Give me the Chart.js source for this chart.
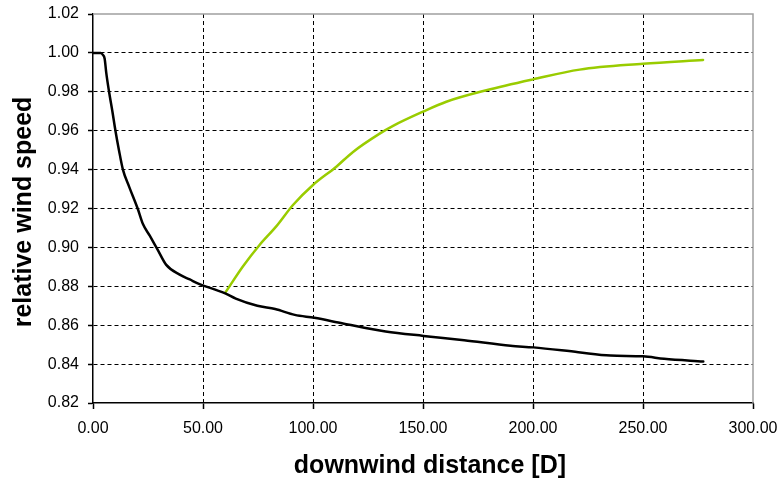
<!DOCTYPE html>
<html>
<head>
<meta charset="utf-8">
<script src="https://cdn.jsdelivr.net/npm/chart.js@4.4.1/dist/chart.umd.min.js"></script>
<style>
  html, body { margin: 0; padding: 0; background: #ffffff; }
  #wrap { width: 779px; height: 479px; }
</style>
</head>
<body>
<div id="wrap"><canvas id="c" width="779" height="479"></canvas></div>
<script>
// Wind speed behind a single turbine row (black) and recovery behind a gap (green)
const distanceBlack = [0, 2, 3.5, 4.5, 5.3, 6, 7.3, 8.8, 10.2, 11.8, 13.6, 16.5, 20.3, 22.7, 25.8,
  29.3, 33.3, 39.4, 44, 48.7, 55.2, 60.1, 64.9, 74.7, 82.8, 91.7, 100.6, 113.6, 133, 150.2,
  168.7, 189.8, 200.2, 220.6, 235.2, 250, 259.6, 277.4];
const speedBlack = [1.000, 1.000, 1.000, 0.999, 0.997, 0.990, 0.980, 0.970, 0.960, 0.950, 0.940,
  0.931, 0.920, 0.912, 0.906, 0.899, 0.891, 0.886, 0.8835, 0.881, 0.8784, 0.8764, 0.8737,
  0.8700, 0.8683, 0.8653, 0.8638, 0.8609, 0.8568, 0.8545, 0.8523, 0.8494, 0.8486, 0.8461,
  0.8444, 0.8440, 0.8427, 0.8413];

const distanceGreen = [60.3, 68.2, 75.8, 83.3, 90.9, 100, 110.6, 118.2, 130.3, 136.4, 150,
  160.6, 178.8, 200, 221.2, 250, 277.3];
const speedGreen = [0.877, 0.8903, 0.9014, 0.9108, 0.9218, 0.9321, 0.9415, 0.9491, 0.9585,
  0.9625, 0.9698, 0.9749, 0.9808, 0.9864, 0.9914, 0.9944, 0.9964];

const xTickValues = [0, 50, 100, 150, 200, 250, 300];
const yTickValues = [0.82, 0.84, 0.86, 0.88, 0.90, 0.92, 0.94, 0.96, 0.98, 1.00, 1.02];

const toPoints = (xs, ys) => xs.map((x, i) => ({ x: x, y: ys[i] }));

const FONT = "'Liberation Sans', Arial, sans-serif";

// Inner grid lines are dashed; the outer ones are replaced by the axes / frame
const innerGrid = (count) => (ctx) =>
  (ctx.index === 0 || ctx.index === count - 1) ? 'rgba(0,0,0,0)' : '#000000';

// Grey frame on the top and right sides of the plot area
const framePlugin = {
  id: 'frame',
  afterDatasetsDraw(chart) {
    const { ctx, chartArea: a } = chart;
    ctx.save();
    ctx.strokeStyle = '#a0a0a0';
    ctx.lineWidth = 1.5;
    ctx.beginPath();
    ctx.moveTo(a.left, a.top);
    ctx.lineTo(a.right, a.top);
    ctx.lineTo(a.right, a.bottom);
    ctx.stroke();
    ctx.restore();
  }
};

const lineStyle = {
  borderWidth: 2.5,
  pointRadius: 0,
  cubicInterpolationMode: 'monotone',
  borderJoinStyle: 'round',
  borderCapStyle: 'round'
};

new Chart(document.getElementById('c'), {
  type: 'line',
  data: {
    datasets: [
      Object.assign({ data: toPoints(distanceBlack, speedBlack), borderColor: '#000000' }, lineStyle),
      Object.assign({ data: toPoints(distanceGreen, speedGreen), borderColor: '#99cc00' }, lineStyle)
    ]
  },
  options: {
    responsive: false,
    animation: false,
    devicePixelRatio: 1,
    layout: { padding: { top: 14, right: 26, left: 0, bottom: 0 } },
    plugins: {
      legend: { display: false },
      tooltip: { enabled: false }
    },
    scales: {
      x: {
        type: 'linear',
        min: 0,
        max: 300,
        afterBuildTicks: (s) => { s.ticks = xTickValues.map(v => ({ value: v })); },
        afterFit: (s) => { s.height = 76; s.paddingLeft = 0; s.paddingRight = 0; },
        ticks: {
          color: '#000000',
          padding: 10,
          maxRotation: 0,
          autoSkip: false,
          font: { family: FONT, size: 16 },
          callback: (v) => Number(v).toFixed(2)
        },
        grid: {
          color: innerGrid(xTickValues.length),
          lineWidth: 1,
          tickLength: 6,
          tickColor: '#000000',
          tickWidth: 1.5,
          tickBorderDash: []
        },
        border: { display: true, color: '#000000', width: 1.5, dash: [4, 3] },
        title: {
          display: true,
          text: '  downwind distance [D]',
          color: '#000000',
          font: { family: FONT, size: 25, weight: 'bold', lineHeight: 1 },
          padding: { top: 0, bottom: 0 }
        }
      },
      y: {
        type: 'linear',
        min: 0.82,
        max: 1.02,
        afterBuildTicks: (s) => { s.ticks = yTickValues.map(v => ({ value: v })); },
        afterFit: (s) => { s.width = 93; s.paddingTop = 0; s.paddingBottom = 0; },
        ticks: {
          color: '#000000',
          padding: 9,
          autoSkip: false,
          font: { family: FONT, size: 16 },
          callback: (v) => Number(v).toFixed(2)
        },
        grid: {
          color: innerGrid(yTickValues.length),
          lineWidth: 1,
          tickLength: 5,
          tickColor: '#000000',
          tickWidth: 1.5,
          tickBorderDash: []
        },
        border: { display: true, color: '#000000', width: 1.5, dash: [4, 3] },
        title: {
          display: true,
          text: 'relative wind speed ',
          color: '#000000',
          font: { family: FONT, size: 25, weight: 'bold', lineHeight: 1 },
          padding: { top: 12, bottom: 0 }
        }
      }
    }
  },
  plugins: [framePlugin]
});
</script>
</body>
</html>
